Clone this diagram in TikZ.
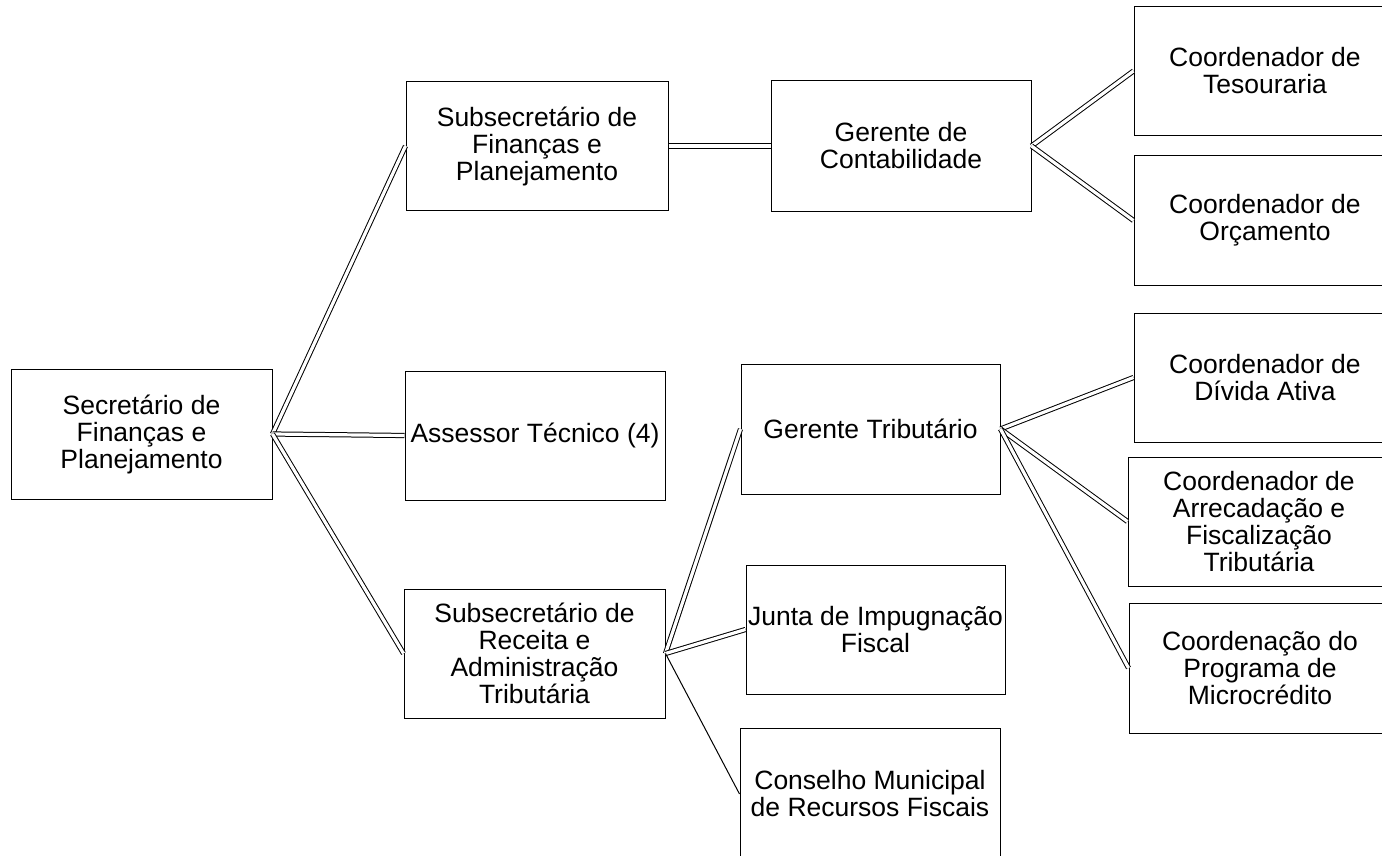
\documentclass[tikz,border=0pt]{standalone}
\usepackage{fontspec}
\setmainfont{Liberation Sans}
\begin{document}
\begin{tikzpicture}[x=1pt,y=-1pt,
  box/.style={draw=black,line width=1pt,rectangle,inner sep=0pt,align=center,
    minimum width=260pt,minimum height=129pt,
    font=\fontsize{26.5pt}{27pt}\selectfont},
  dbl/.style={draw=black,line width=1pt,double=white,double distance=3.2pt},
  sgl/.style={draw=black,line width=1pt}]
\useasboundingbox (0,0) rectangle (1382,856);
\clip (0,0) rectangle (1382,856);
\fill[white] (0,0) rectangle (1382,856);
% nodes
\node[box,minimum width=261pt,minimum height=130pt] (sec) at (141.5,434) {Secretário de\\Finanças e\\Planejamento};
\node[box,minimum width=262pt,minimum height=128pt] (subfin) at (537,146) {Subsecretário de\\Finanças e\\Planejamento};
\node[box] (assessor) at (535,435.5) {Assessor Técnico (4)};
\node[box,minimum width=261pt] (subrec) at (534.5,653.5) {Subsecretário de\\Receita e\\Administração\\Tributária};
\node[box,minimum height=130pt] (gcont) at (901,146) {Gerente de\\Contabilidade};
\node[box,minimum width=259pt,minimum height=130pt] (gtrib) at (870.5,429) {Gerente Tributário};
\node[box,minimum width=259pt] (junta) at (875.5,629.5) {Junta de Impugnação\\Fiscal};
\node[box,minimum height=132pt] (conselho) at (870,794) {Conselho Municipal\\de Recursos Fiscais};
\node[box,minimum width=262pt] (tes) at (1265,71) {Coordenador de\\Tesouraria};
\node[box,minimum width=262pt] (orc) at (1265,220.5) {Coordenador de\\Orçamento};
\node[box,minimum width=262pt] (div) at (1265,377.5) {Coordenador de\\Dívida Ativa};
\node[box,minimum width=262pt] (arr) at (1259,521.5) {Coordenador de\\Arrecadação e\\Fiscalização\\Tributária};
\node[box,minimum width=262pt,minimum height=130pt] (micro) at (1260,668) {Coordenação do\\Programa de\\Microcrédito};
% connectors
\draw[dbl] (sec.east) -- (subfin.west);
\draw[dbl] (sec.east) -- (assessor.west);
\draw[dbl] (sec.east) -- (subrec.west);
\draw[dbl] (subfin.east) -- (gcont.west);
\draw[dbl] (gcont.east) -- (tes.west);
\draw[dbl] (gcont.east) -- (orc.west);
\draw[dbl] (subrec.east) -- (gtrib.west);
\draw[dbl] (subrec.east) -- (junta.west);
\draw[sgl] (subrec.east) -- (conselho.west);
\draw[dbl] (gtrib.east) -- (div.west);
\draw[dbl] (gtrib.east) -- (arr.west);
\draw[dbl] (gtrib.east) -- (micro.west);
\end{tikzpicture}
\end{document}
